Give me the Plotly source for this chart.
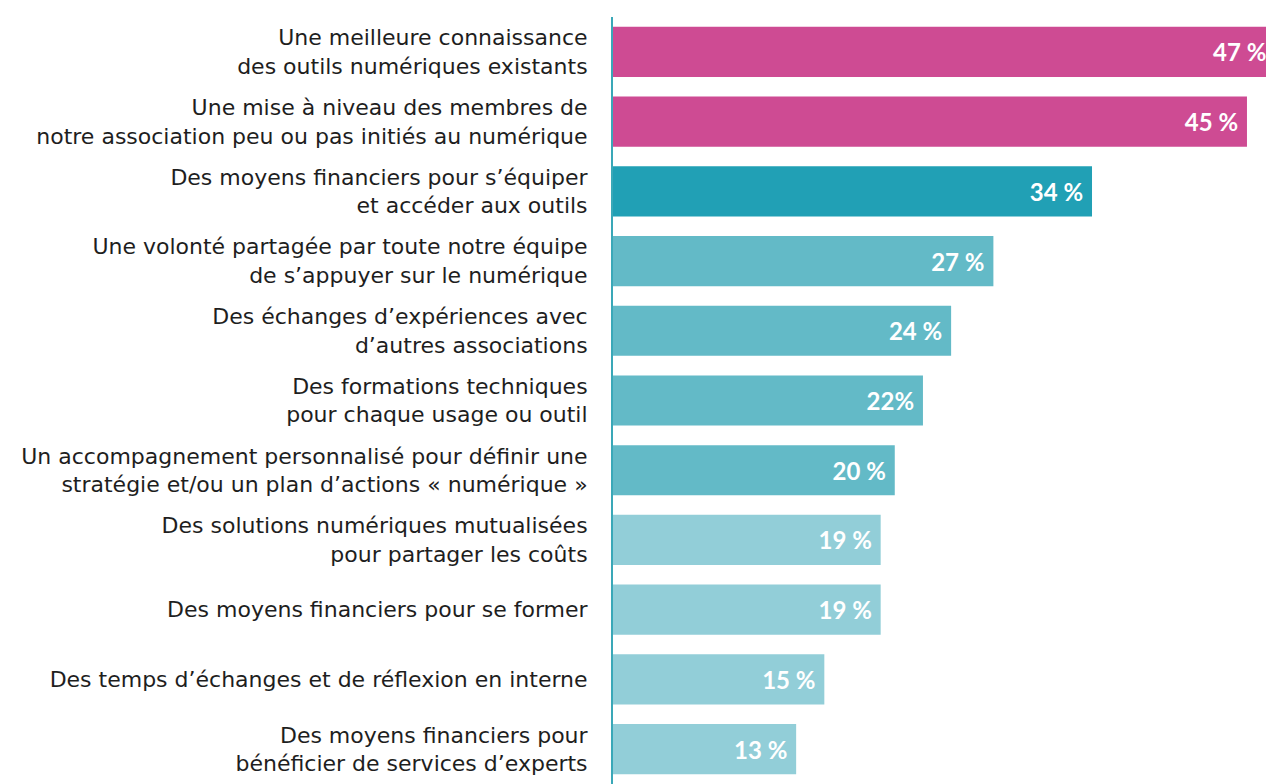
import plotly.graph_objects as go

labels = [
    "Une meilleure connaissance<br>des outils numériques existants",
    "Une mise à niveau des membres de<br>notre association peu ou pas initiés au numérique",
    "Des moyens financiers pour s’équiper<br>et accéder aux outils",
    "Une volonté partagée par toute notre équipe<br>de s’appuyer sur le numérique",
    "Des échanges d’expériences avec<br>d’autres associations",
    "Des formations techniques<br>pour chaque usage ou outil",
    "Un accompagnement personnalisé pour définir une<br>stratégie et/ou un plan d’actions « numérique »",
    "Des solutions numériques mutualisées<br>pour partager les coûts",
    "Des moyens financiers pour se former",
    "Des temps d’échanges et de réflexion en interne",
    "Des moyens financiers pour<br>bénéficier de services d’experts",
]
values = [47, 45, 34, 27, 24, 22, 20, 19, 19, 15, 13]
value_text = ["47 %", "45 %", "34 %", "27 %", "24 %", "22%", "20 %", "19 %", "19 %", "15 %", "13 %"]
bar_colors = ["#CE4B93", "#CE4B93", "#21A0B5", "#63BAC7", "#63BAC7", "#63BAC7",
              "#63BAC7", "#92CED8", "#92CED8", "#92CED8", "#92CED8"]

fig = go.Figure()
fig.add_trace(go.Bar(
    x=values,
    y=labels,
    orientation="h",
    marker=dict(color=bar_colors, line=dict(width=0)),
    width=0.72,
    # trailing no-break space keeps the label off the bar end
    text=[t + "\u00a0" for t in value_text],
    textposition="inside",
    insidetextanchor="end",
    textfont=dict(family="Lato", size=24, color="white", weight="bold"),
    hoverinfo="skip",
))

fig.update_layout(
    width=1266,
    height=784,
    margin=dict(l=613, r=0, t=17, b=0),
    plot_bgcolor="white",
    paper_bgcolor="white",
    showlegend=False,
    font=dict(family="DejaVu Sans", size=21, color="#1e1e1e"),
)
# first bar runs past the right edge, as in the source picture
fig.update_xaxes(range=[0, 46.35], visible=False, fixedrange=True)
fig.update_yaxes(
    autorange="reversed",
    showline=True,
    linecolor="#3AA8B8",
    linewidth=2,
    showgrid=False,
    ticks="",
    ticklabelstandoff=19,
    fixedrange=True,
    tickfont=dict(family="DejaVu Sans", size=22, color="#1e1e1e"),
)

# drop the default page margin so the figure fills the window
fig.write_html(
    "out.html",
    config={"displayModeBar": False},
    post_script="document.body.style.margin='0';document.body.style.overflow='hidden';",
)
